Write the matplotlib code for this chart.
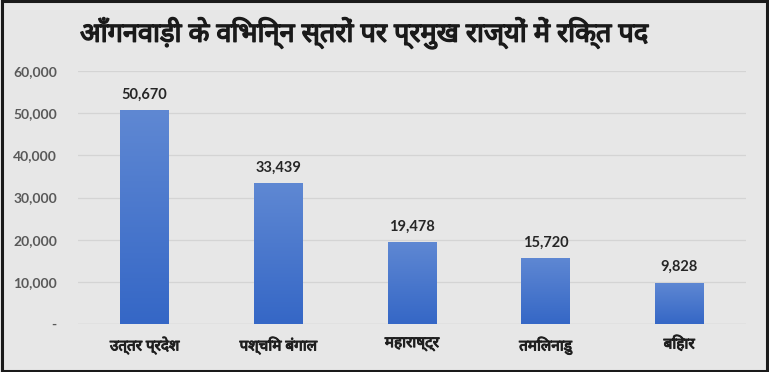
import matplotlib.pyplot as plt
import matplotlib.patheffects as pe
import numpy as np
from matplotlib.patches import Rectangle

states = ['उत्तर प्रदेश', 'पश्चिम बंगाल', 'महाराष्ट्र', 'तमिलनाडु', 'बिहार']
vacancies = [50670, 33439, 19478, 15720, 9828]
y_ticks = [0, 10000, 20000, 30000, 40000, 50000, 60000]
y_labels = ['-', '10,000', '20,000', '30,000', '40,000', '50,000', '60,000']
title = 'आँगनवाड़ी के विभिन्न स्तरों पर प्रमुख राज्यों में रिक्त पद'

plt.rcParams['font.family'] = ['Noto Sans Devanagari', 'Lato', 'DejaVu Sans']
num_font = ['Lato', 'DejaVu Sans']

bg = '#e7e7e7'
fig = plt.figure(figsize=(7.69, 3.72), dpi=100, facecolor=bg)
ax = fig.add_axes([0.101, 0.129, 0.869, 0.680])
ax.set_facecolor(bg)

x = np.arange(len(states))
bars = ax.bar(x, vacancies, width=0.36, color='#4a78cc', zorder=3)

# vertical gradient on each bar
grad = np.linspace(0, 1, 256).reshape(-1, 1)
cmap = plt.matplotlib.colors.LinearSegmentedColormap.from_list('g', ['#3567c6', '#5f88d3'])
for b in bars:
    x0, w, h = b.get_x(), b.get_width(), b.get_height()
    im = ax.imshow(grad, extent=[x0, x0 + w, 0, h], origin='lower', cmap=cmap,
                   aspect='auto', zorder=4)
    im.set_clip_path(b)
    ax.text(x0 + w / 2, h + 2000, f'{h:,.0f}', ha='center', va='bottom',
            fontsize=10.5, fontweight='bold', color='#262626', zorder=5,
            family=num_font)

bold = [pe.withStroke(linewidth=0.7, foreground='#1f1f1f')]

ax.set_xlim(-0.5, len(states) - 0.5)
ax.set_ylim(0, 60000)
ax.set_yticks(y_ticks)
ax.set_yticklabels(y_labels, color='#595959', fontsize=10, fontweight='bold',
                   family=num_font)
ax.set_xticks(x)
ax.set_xticklabels(states, fontsize=11, color='#1f1f1f', path_effects=bold)
ax.tick_params(length=0)
ax.tick_params(axis='x', pad=9)
ax.tick_params(axis='y', pad=15)
ax.grid(axis='y', color='#d4d4d4', linewidth=0.9, zorder=0)
for s in ax.spines.values():
    s.set_visible(False)
ax.axhline(0, color='#d0d0d0', linewidth=0.9, zorder=2)

fig.text(0.104, 0.912, title, ha='left', va='center', fontsize=19.5,
         color='#1a1a1a', path_effects=[pe.withStroke(linewidth=1.0, foreground='#1a1a1a')])

fig.patches.append(Rectangle((0.002, 0.004), 0.996, 0.992, transform=fig.transFigure,
                             fill=False, edgecolor='#1a1a1a', linewidth=2.2))

fig.savefig('out.png', dpi=100, facecolor=bg)
